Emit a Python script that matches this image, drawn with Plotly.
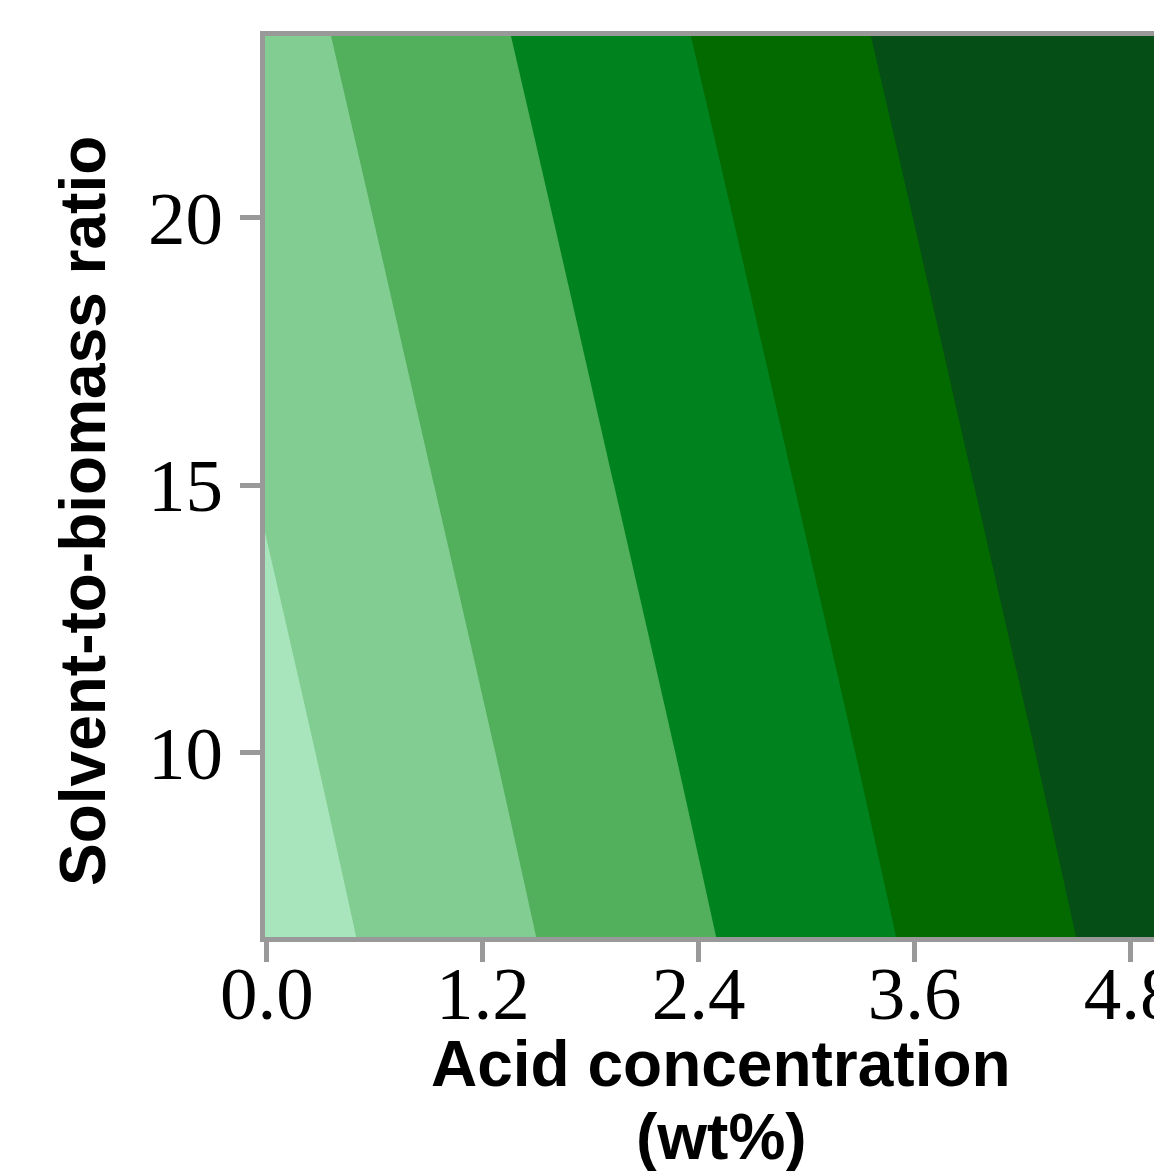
import plotly.graph_objects as go

# ---- data ----
acid = [-0.05, 1.0, 2.0, 3.0, 4.0, 5.05]          # Acid concentration (wt%)
ratio = [6.5, 10.0, 15.0, 20.0, 23.5]              # Solvent-to-biomass ratio
response = [
    [4.5, 15.0, 25.0, 35.0, 45.0, 55.5],
    [6.8, 17.3, 27.3, 37.3, 47.3, 57.8],
    [10.2, 20.7, 30.7, 40.7, 50.7, 61.2],
    [13.6, 24.1, 34.1, 44.1, 54.1, 64.6],
    [16.0, 26.5, 36.5, 46.5, 56.5, 67.0],
]
x_ticks = [0.0, 1.2, 2.4, 3.6, 4.8]
x_ticklabels = ["0.0", "1.2", "2.4", "3.6", "4.8"]
y_ticks = [10, 15, 20]
y_ticklabels = ["10", "15", "20"]
band_colors = ["#a8e5bd", "#82cd91", "#52af5c", "#00821f", "#036a00", "#054e15"]

# ---- figure ----
W, H = 1154, 1171
L, R, T, B = 265, 0, 36, 1171 - 937

n = len(band_colors)
colorscale = []
for i, c in enumerate(band_colors):
    colorscale.append([i / n, c])
    colorscale.append([(i + 1) / n, c])

fig = go.Figure(go.Contour(
    x=acid, y=ratio, z=response,
    contours=dict(start=10, end=50, size=10, coloring="fill", showlines=False),
    colorscale=colorscale, showscale=False, line=dict(width=0),
    hoverinfo="skip",
))

axis_grey = "#999999"
tick_font = dict(family="Liberation Serif, Times New Roman, serif", size=75, color="black")
fig.update_xaxes(
    range=[-0.01, 4.93], tickvals=x_ticks, ticktext=x_ticklabels,
    showgrid=False, zeroline=False, showline=True, linecolor=axis_grey, linewidth=5,
    mirror=True, ticks="outside", ticklen=20, tickwidth=5, tickcolor=axis_grey,
    tickfont=tick_font, ticklabeloverflow="allow", ticklabelstandoff=-33,
    automargin=False,
)
fig.update_yaxes(
    range=[6.55, 23.4], tickvals=y_ticks, ticktext=y_ticklabels,
    showgrid=False, zeroline=False, showline=True, linecolor=axis_grey, linewidth=5,
    mirror=False, ticks="outside", ticklen=20, tickwidth=5, tickcolor=axis_grey,
    tickfont=tick_font, ticklabelstandoff=2, automargin=False,
)

pw, ph = W - L - R, H - T - B
def px(x):
    return (x - L) / pw
def py(y):
    return 1 - (y - T) / ph

title_font = dict(family="Liberation Sans, Arial, Helvetica, sans-serif", size=64, color="black")
fig.add_annotation(text="<b>Acid concentration</b>", xref="paper", yref="paper",
                   x=px(721), y=py(1064), xanchor="center", yanchor="middle",
                   showarrow=False, font=title_font)
fig.add_annotation(text="<b>(wt%)</b>", xref="paper", yref="paper",
                   x=px(721), y=py(1137), xanchor="center", yanchor="middle",
                   showarrow=False, font=title_font)
fig.add_annotation(text="<b>Solvent-to-biomass ratio</b>", xref="paper", yref="paper",
                   x=px(83), y=py(511), xanchor="center", yanchor="middle",
                   textangle=-90, showarrow=False, font=title_font)

fig.update_layout(
    width=W, height=H, margin=dict(l=L, r=R, t=T, b=B, pad=0),
    paper_bgcolor="white", plot_bgcolor="white", showlegend=False,
)
fig.write_html("out.html")
